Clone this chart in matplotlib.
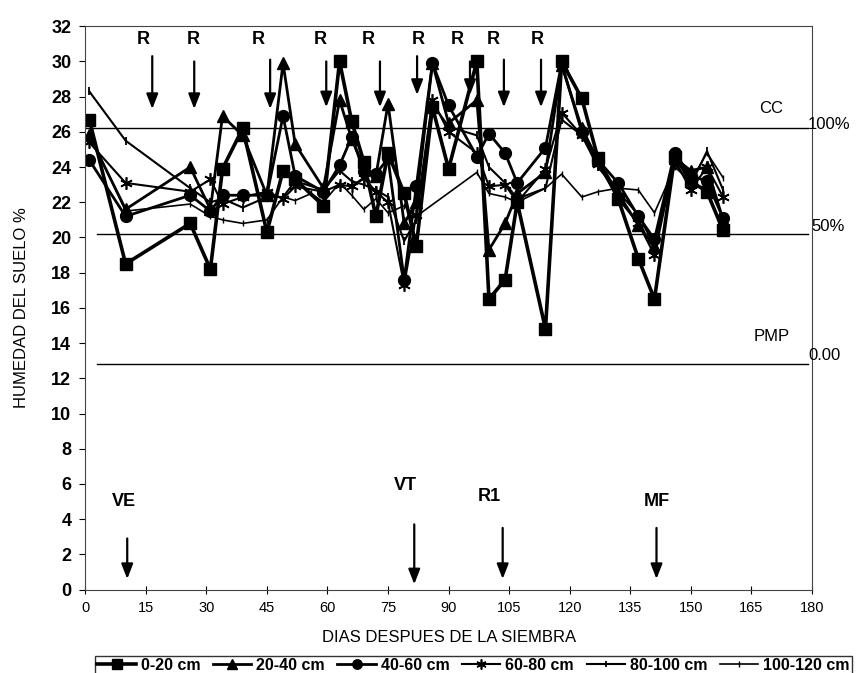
import numpy as np
import matplotlib.pyplot as plt

plt.rcParams['font.family'] = ['Liberation Sans', 'DejaVu Sans']

# dias de muestreo comunes a las capas
dias = [1, 10, 26, 31, 34, 39, 45, 49, 52, 59, 63, 66, 69, 72, 75, 79, 82, 86, 90,
        97, 100, 104, 107, 114, 118, 123, 127, 132, 137, 141, 146, 150, 154, 158]

h_0_20 = [26.7, 18.5, 20.8, 18.2, 23.9, 26.2, 20.3, 23.8, 23.3, 21.8, 30.0, 26.6, 24.3,
          21.2, 24.8, 22.5, 19.5, 27.4, 23.9, 30.0, 16.5, 17.6, 22.0, 14.8, 30.0, 27.9,
          24.5, 22.2, 18.8, 16.5, 24.6, 23.2, 22.6, 20.4]
h_20_40 = [25.8, 21.6, 24.0, 21.6, 26.9, 25.8, 22.4, 29.9, 25.3, 22.8, 27.8, 25.6, 24.0,
           23.5, 27.6, 20.8, 22.0, 29.9, 26.5, 27.8, 19.3, 20.8, 22.5, 23.7, 29.8, 26.2,
           24.4, 22.5, 20.7, 19.5, 24.5, 23.8, 24.0, 21.0]
h_40_60 = [24.4, 21.2, 22.4, 21.5, 22.4, 22.4, 22.4, 26.9, 23.5, 22.6, 24.1, 25.7, 23.8,
           23.6, 24.5, 17.6, 22.9, 29.9, 27.5, 24.6, 25.9, 24.8, 23.1, 25.1, 29.9, 26.0,
           24.4, 23.1, 21.2, 19.9, 24.8, 23.5, 23.2, 21.1]
h_60_80 = [25.4, 23.1, 22.6, 23.3, 21.9, 22.3, 22.6, 22.2, 22.9, 22.6, 23.0, 22.9, 23.4,
           22.6, 22.0, 17.3, 21.3, 27.8, 26.0, 24.8, 22.9, 23.0, 22.0, 23.9, 27.1, 25.8,
           24.2, 22.2, 20.8, 19.0, 24.4, 22.7, 24.0, 22.3]
h_80_100 = [28.3, 25.5, 22.8, 22.0, 22.2, 21.7, 22.3, 22.3, 23.2, 22.7, 23.8, 23.2, 23.0,
            22.7, 22.3, 19.8, 21.0, 27.6, 26.3, 25.8, 24.0, 23.1, 22.2, 22.8, 26.7, 25.8,
            24.0, 22.6, 21.3, 19.5, 24.2, 23.0, 24.9, 22.7]

dias_100_120 = [1, 10, 26, 31, 34, 39, 45, 49, 52, 56, 59, 63, 66, 69, 72, 75, 79, 82,
                97, 100, 104, 107, 114, 118, 123, 127, 132, 137, 141, 146, 150, 154, 158]
h_100_120 = [25.9, 21.5, 21.9, 21.2, 21.0, 20.8, 21.0, 22.3, 22.1, 22.5, 22.0, 23.1, 22.4,
             21.6, 22.2, 21.4, 21.8, 21.2, 23.7, 22.5, 22.3, 22.0, 22.8, 23.6, 22.3, 22.6,
             22.8, 22.7, 21.4, 24.0, 23.2, 24.8, 23.4]

capas = ['0-20 cm', '20-40 cm', '40-60 cm', '60-80 cm', '80-100 cm', '100-120 cm']

# riegos (R)
riego_txt = [14.4, 26.7, 42.8, 58.2, 70.0, 82.4, 92.1, 101.0, 111.9]
riego_dia = [16.6, 27.0, 45.8, 59.7, 73.0, 82.2, 95.3, 103.7, 112.9]
riego_tope = [30.3, 30.0, 30.1, 30.0, 30.0, 30.3, 30.0, 30.1, 30.1]
riego_punta = [27.3, 27.3, 27.3, 27.4, 27.4, 28.1, 28.1, 27.4, 27.4]

# etapas fenologicas
etapas = ['VE', 'VT', 'R1', 'MF']
etapa_txt = [9.7, 79.4, 100.2, 141.5]
etapa_txt_y = [5.0, 5.9, 5.3, 5.0]
etapa_dia = [10.4, 81.5, 103.4, 141.5]
etapa_tope = [2.9, 3.7, 3.5, 3.5]
etapa_punta = [0.6, 0.3, 0.6, 0.6]

# niveles de referencia
cc, mitad, pmp = 26.2, 20.2, 12.8

fig = plt.figure(figsize=(8.61, 6.73), dpi=100)
ax = fig.add_axes([0.099, 0.124, 0.844, 0.837])

ax.plot([0, 179], [cc, cc], color='black', lw=1.0)
ax.plot([3, 179], [mitad, mitad], color='black', lw=1.0)
ax.plot([3, 179], [pmp, pmp], color='black', lw=1.0)

ax.plot(dias, h_0_20, color='black', lw=2.6, marker='s', ms=8.5, label=capas[0])
ax.plot(dias, h_20_40, color='black', lw=2.0, marker='^', ms=8.5, label=capas[1])
ax.plot(dias, h_40_60, color='black', lw=2.0, marker='o', ms=8.5, label=capas[2])
ax.plot(dias, h_60_80, color='black', lw=1.5, marker=(6, 2, 0), ms=9, mew=1.2, label=capas[3])
ax.plot(dias, h_80_100, color='black', lw=1.5, marker='|', ms=6, mew=1.3, label=capas[4])
ax.plot(dias_100_120, h_100_120, color='black', lw=1.2, marker='|', ms=5, mew=1.0, label=capas[5])

flecha = dict(arrowstyle='-|>,head_width=0.35,head_length=0.9',
              lw=1.6, color='black', shrinkA=0, shrinkB=0)

for d, tope, punta in zip(riego_dia, riego_tope, riego_punta):
    ax.annotate('', xy=(d, punta), xytext=(d, tope), arrowprops=flecha)
for d in riego_txt:
    ax.text(d, 31.25, 'R', ha='center', va='center', fontsize=13, fontweight='bold')

for nombre, tx, ty, d, tope, punta in zip(etapas, etapa_txt, etapa_txt_y, etapa_dia,
                                          etapa_tope, etapa_punta):
    ax.text(tx, ty, nombre, ha='center', va='center', fontsize=13, fontweight='bold')
    ax.annotate('', xy=(d, punta), xytext=(d, tope), arrowprops=flecha)

ax.text(170, 27.3, 'CC', ha='center', va='center', fontsize=12)
ax.text(179.0, 26.4, '100%', ha='left', va='center', fontsize=12, clip_on=False)
ax.text(179.8, 20.6, '50%', ha='left', va='center', fontsize=12, clip_on=False)
ax.text(170, 14.4, 'PMP', ha='center', va='center', fontsize=12)
ax.text(179.0, 13.3, '0.00', ha='left', va='center', fontsize=12, clip_on=False)

ax.set_xlim(0, 180)
ax.set_ylim(0, 32)
ax.set_xticks(np.arange(0, 181, 15))
ax.set_yticks(np.arange(0, 33, 2))
ax.tick_params(axis='y', direction='out', length=4, labelsize=13, pad=6)
ax.tick_params(axis='x', direction='inout', length=6, labelsize=10.5, pad=5)
for lbl in ax.get_yticklabels():
    lbl.set_fontweight('bold')

for s in ax.spines.values():
    s.set_linewidth(0.8)
    s.set_color('#444444')

ax.set_xlabel('DIAS DESPUES DE LA SIEMBRA', fontsize=12, labelpad=11)
ax.set_ylabel('HUMEDAD DEL SUELO %', fontsize=12, labelpad=16)

leg = fig.legend(loc='lower center', bbox_to_anchor=(0.55, -0.006), ncol=6,
                 prop={'size': 11.5, 'weight': 'bold'}, frameon=True, fancybox=False,
                 edgecolor='black', handlelength=2.4, handletextpad=0.3,
                 columnspacing=0.8, borderpad=0.15, borderaxespad=0.1,
                 markerscale=0.8)
leg.get_frame().set_linewidth(1.0)

fig.savefig('out.png', dpi=100)
